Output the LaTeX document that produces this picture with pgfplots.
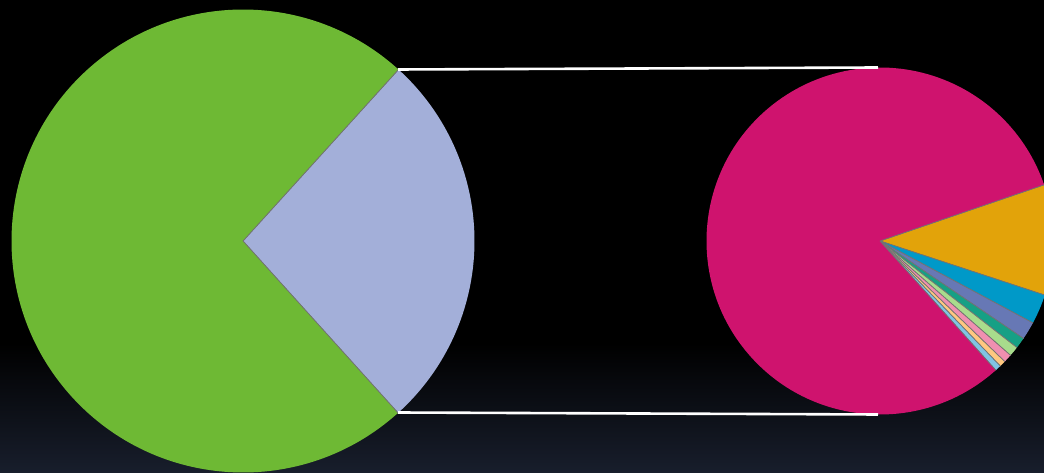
\documentclass[border=0pt]{standalone}
\usepackage{pgfplots}
\pgfplotsset{compat=1.18}
\definecolor{cGreen}{HTML}{6EB934}
\definecolor{cLav}{HTML}{A3AFD9}
\definecolor{cMag}{HTML}{CF136E}
\definecolor{cOrange}{HTML}{E2A30A}
\definecolor{cCyan}{HTML}{0099C8}
\definecolor{cSteel}{HTML}{6778B5}
\definecolor{cTeal}{HTML}{16A085}
\definecolor{cLGreen}{HTML}{A8DC8C}
\definecolor{cPink}{HTML}{F08FB0}
\definecolor{cLOrange}{HTML}{FFC880}
\definecolor{cLBlue}{HTML}{80C4E4}
\definecolor{bgBottom}{HTML}{181E2C}
% running start angle
\gdef\curang{0}
% #1 cx, #2 cy (axis units), #3 radius (mm), #4 share in percent, #5 colour
\newcommand\pieslice[5]{%
  \pgfmathsetmacro\endang{\curang-3.6*#4}%
  \edef\tmp{\noexpand\fill[#5] (axis cs:#1,#2) -- ++(\curang:#3mm) arc[start angle=\curang, end angle=\endang, radius=#3mm] -- cycle;
    \noexpand\draw[black!55, line width=0.2pt] (axis cs:#1,#2) -- ++(\curang:#3mm);
    \noexpand\draw[black!55, line width=0.2pt] (axis cs:#1,#2) -- ++(\endang:#3mm);}%
  \tmp
  \global\let\curang\endang
}
\begin{document}
\begin{tikzpicture}
\begin{axis}[
  scale only axis, width=104.4mm, height=47.3mm,
  xmin=0, xmax=1044, ymin=0, ymax=473, enlargelimits=false,
  hide axis, clip=true]
% background
\fill[black] (axis cs:0,0) rectangle (axis cs:1044,473);
\shade[top color=black, bottom color=bgBottom] (axis cs:0,0) rectangle (axis cs:1044,130);
% left pie (centre 243,232; r = 231.5)
\gdef\curang{47.8}
\pieslice{243}{232}{23.15}{26.6}{cLav}
\pieslice{243}{232}{23.15}{73.4}{cGreen}
% right pie (centre 880,232; r = 173.5)
\gdef\curang{18.9}
\pieslice{880}{232}{17.35}{10.30}{cOrange}
\pieslice{880}{232}{17.35}{2.78}{cCyan}
\pieslice{880}{232}{17.35}{1.67}{cSteel}
\pieslice{880}{232}{17.35}{1.03}{cTeal}
\pieslice{880}{232}{17.35}{0.92}{cLGreen}
\pieslice{880}{232}{17.35}{0.78}{cPink}
\pieslice{880}{232}{17.35}{0.58}{cLOrange}
\pieslice{880}{232}{17.35}{0.56}{cLBlue}
\pieslice{880}{232}{17.35}{81.38}{cMag}
% connector lines
\addplot[white, line width=0.26mm] coordinates {(398,403.5) (878,405.5)};
\addplot[white, line width=0.26mm] coordinates {(398,60.5) (878,58.5)};
\end{axis}
\end{tikzpicture}
\end{document}
